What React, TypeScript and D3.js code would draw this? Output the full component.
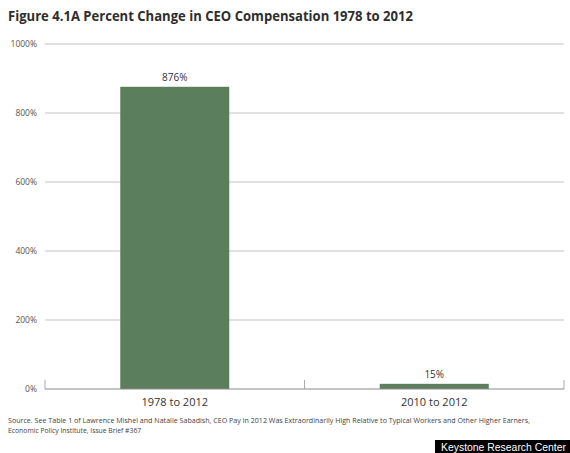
import React from "react";
import * as d3 from "d3";

const categories = ["1978 to 2012", "2010 to 2012"];
const values = [876, 15];
const valueLabels = ["876%", "15%"];
const yTicks = [0, 200, 400, 600, 800, 1000];

export default function App() {
  const W = 570, H = 453;
  const left = 45, right = 564, top = 44, bottom = 389;
  const x = d3.scaleBand<string>().domain(categories).range([left, right]).paddingInner(0.58).paddingOuter(0.29);
  const y = d3.scaleLinear().domain([0, 1000]).range([bottom, top]);
  const font = "'Open Sans', 'Noto Sans', Arial, sans-serif";
  const barColor = "#5b7f5d";
  const step = (right - left) / categories.length;
  return (
    <svg width={W} height={H} style={{ position: "absolute", left: 0, top: 0, background: "#fff" }} fontFamily={font}>
      <text x={8} y={21} fontSize={14} fontWeight={700} fill="#2e2e2e" textLength={405} lengthAdjust="spacingAndGlyphs">
        Figure 4.1A Percent Change in CEO Compensation 1978 to 2012
      </text>
      {yTicks.map((t) => (
        <g key={t}>
          {t > 0 && <line x1={left} x2={right} y1={y(t)} y2={y(t)} stroke="#c4c4c4" strokeWidth={1.2} />}
          <text x={37} y={y(t) + 3} fontSize={8.5} fill="#555" textAnchor="end">{t}%</text>
        </g>
      ))}
      {categories.map((c, i) => (
        <g key={c}>
          <rect x={x(c)} y={y(values[i])} width={x.bandwidth()} height={bottom - y(values[i])} fill={barColor} />
          <text x={x(c)! + x.bandwidth() / 2} y={y(values[i]) - 6} fontSize={10} fill="#333" textAnchor="middle">{valueLabels[i]}</text>
          <text x={x(c)! + x.bandwidth() / 2} y={bottom + 17} fontSize={11} fill="#333" textAnchor="middle">{c}</text>
        </g>
      ))}
      <line x1={left} x2={right} y1={bottom} y2={bottom} stroke="#8a8a8a" strokeWidth={1.2} />
      {[0, 1, 2].map((k) => (
        <line key={k} x1={left + k * step} x2={left + k * step} y1={bottom - 9} y2={bottom} stroke="#aaa" strokeWidth={1} />
      ))}
      <text x={8} y={423} fontSize={6.8} fill="#444" textLength={522} lengthAdjust="spacingAndGlyphs">
        Source. See Table 1 of Lawrence Mishel and Natalie Sabadish, CEO Pay in 2012 Was Extraordinarily High Relative to Typical Workers and Other Higher Earners,
      </text>
      <text x={8} y={433} fontSize={6.8} fill="#444">Economic Policy Institute, Issue Brief #367</text>
      <rect x={435} y={440} width={135} height={13} fill="#000" />
      <text x={441} y={451} fontSize={10.5} fill="#fff" fontFamily="'Liberation Sans', Arial, sans-serif" textLength={125} lengthAdjust="spacingAndGlyphs">Keystone Research Center</text>
    </svg>
  );
}
